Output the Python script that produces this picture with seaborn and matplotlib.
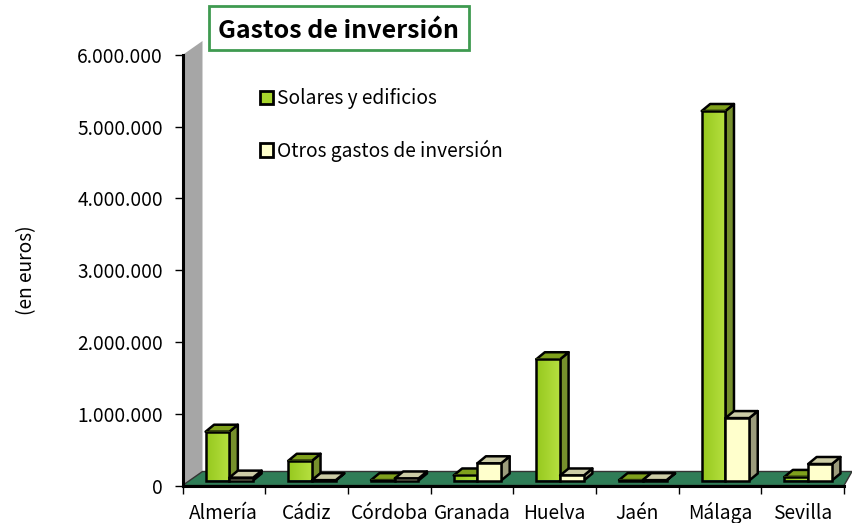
import numpy as np
import pandas as pd
import matplotlib
matplotlib.use("Agg")
import matplotlib.pyplot as plt
from matplotlib.patches import Polygon, Patch, Rectangle
from matplotlib.transforms import Affine2D
import seaborn as sns

categories = ["Almería", "Cádiz", "Córdoba", "Granada", "Huelva", "Jaén", "Málaga", "Sevilla"]
solares = [680000, 275000, 5000, 70000, 1690000, 5000, 5150000, 50000]
otros = [40000, 5000, 28000, 240000, 70000, 5000, 870000, 230000]
series_names = ["Solares y edificios", "Otros gastos de inversión"]
y_ticks = [0, 1000000, 2000000, 3000000, 4000000, 5000000, 6000000]
y_labels = ["0", "1.000.000", "2.000.000", "3.000.000", "4.000.000", "5.000.000", "6.000.000"]

sns.set_theme(style="white")
FONT = ["Noto Sans CJK SC", "DejaVu Sans"]
plt.rcParams["font.family"] = FONT
FS = 13.8
W, H = 852, 523
fig = plt.figure(figsize=(W / 100, H / 100), dpi=100)
L, R, T, B = 182.5, 844.0, 55.0, 485.5
ax = fig.add_axes([L / W, (H - B) / H, (R - L) / W, (B - T) / H])

df = pd.DataFrame({
    "prov": categories * 2,
    "val": solares + otros,
    "serie": [series_names[0]] * 8 + [series_names[1]] * 8,
})
front_cols = {series_names[0]: "#a6d42c", series_names[1]: "#ffffcc"}
sns.barplot(data=df, x="prov", y="val", hue="serie", order=categories, hue_order=series_names,
            palette=front_cols, width=0.575, gap=0, legend=False, ax=ax, saturation=1,
            edgecolor="black", linewidth=1.8)
ax.set_xlim(-0.5, 7.5)
ax.set_ylim(0, 6000000)
ax.set_xticks(np.arange(9) - 0.5)
ax.set_xticklabels([""] * 9)
ax.tick_params(axis="x", which="major", length=6, width=1, color="black", bottom=True, pad=0)
for i, c in enumerate(categories):
    ax.annotate(c, xy=(i, 0), xycoords=ax.get_xaxis_transform(), xytext=(0, -33.5), textcoords="offset pixels",
                ha="center", va="baseline", fontsize=FS, color="black", annotation_clip=False)
ax.set_yticks(y_ticks)
ax.set_yticklabels(y_labels, fontsize=FS, color="black")
ax.tick_params(axis="y", length=6, width=1, color="black", left=True, pad=8)
ax.set_xlabel("")
ax.set_ylabel("(en euros)", fontsize=FS, color="black", labelpad=0)
ax.yaxis.set_label_coords((37 - L) / (R - L), 0.5)
for s in ["top", "right"]:
    ax.spines[s].set_visible(False)
for s in ["left", "bottom"]:
    ax.spines[s].set_visible(True)
    ax.spines[s].set_color("black")
    ax.spines[s].set_linewidth(2.2)
    ax.spines[s].set_zorder(2)
ax.patch.set_alpha(0)

px_x = 8 / (R - L)
px_y = 6000000 / (B - T)

x0, y0 = -0.5, 0
wall = [(x0, y0), (x0, 6000000), (x0 + 20 * px_x, 6000000 + 14 * px_y), (x0 + 20 * px_x, 14 * px_y)]
floor = [(x0, y0), (x0 + 20 * px_x, 14 * px_y), (x0 + (852 - L) * px_x, 14 * px_y), (7.5, 0)]
ax.add_patch(Polygon(wall, closed=True, fc="#a6a6a6", ec="none", clip_on=False, zorder=0.5))
ax.add_patch(Polygon(floor, closed=True, fc="#2f7d57", ec="#333333", lw=1, clip_on=False, zorder=0.6))

ox, oy = 5.5 * px_x, 5 * px_y
dx, dy = 8.5 * px_x, 7 * px_y
side_cols = ["#76902c", "#9c9c7c"]
top_cols = ["#7fa01c", "#cccca6"]
shift = Affine2D().translate(5.5, 5)
cm = matplotlib.colors.LinearSegmentedColormap.from_list("g", ["#96c81e", "#b6e040"])
for i, cont in enumerate(ax.containers):
    z = 3 + i
    for bar in cont:
        xa, w, h = bar.get_x(), bar.get_width(), bar.get_height()
        xl, xr, yb, yt = xa + ox, xa + w + ox, oy, h + oy
        ax.add_patch(Polygon([(xr, yb), (xr + dx, yb + dy), (xr + dx, yt + dy), (xr, yt)], closed=True,
                             fc=side_cols[i], ec="black", lw=1.8, joinstyle="round", clip_on=False, zorder=z))
        ax.add_patch(Polygon([(xl, yt), (xl + dx, yt + dy), (xr + dx, yt + dy), (xr, yt)], closed=True,
                             fc=top_cols[i], ec="black", lw=1.8, joinstyle="round", clip_on=False, zorder=z))
        bar.set_transform(ax.transData + shift)
        bar.set_zorder(z + 0.1)
        bar.set_clip_on(False)
        if i == 0:
            grad = np.linspace(0, 1, 64).reshape(1, -1)
            im = ax.imshow(grad, cmap=cm, extent=(xl, xr, yb, yt), aspect="auto", zorder=z + 0.05,
                           interpolation="bilinear")
            im.set_clip_on(False)
            bar.set_facecolor("none")
ax.set_xlim(-0.5, 7.5)
ax.set_ylim(0, 6000000)

handles = [Patch(fc="#a6d42c", ec="black", lw=2, label=series_names[0]),
           Patch(fc="#ffffcc", ec="black", lw=2, label=series_names[1])]
leg = ax.legend(handles=handles, loc="upper left", bbox_to_anchor=((256 - L) / (R - L), (B - 84) / (B - T)),
                frameon=False, fontsize=FS, handlelength=0.68, handleheight=0.68, handletextpad=0.24,
                labelspacing=1.6, borderaxespad=0, borderpad=0.2, labelcolor="black")
leg.set_zorder(8)

fig.add_artist(Rectangle((208.5 / W, (H - 49.5) / H), 260 / W, 43 / H, transform=fig.transFigure,
                         fc="white", ec="#3f9a50", lw=2, zorder=9))
fig.text(338 / W, (H - 31.5) / H, "Gastos de inversión", ha="center", va="center", fontsize=18,
         fontweight="bold", color="black", zorder=10)

fig.savefig("out.png", dpi=100)
